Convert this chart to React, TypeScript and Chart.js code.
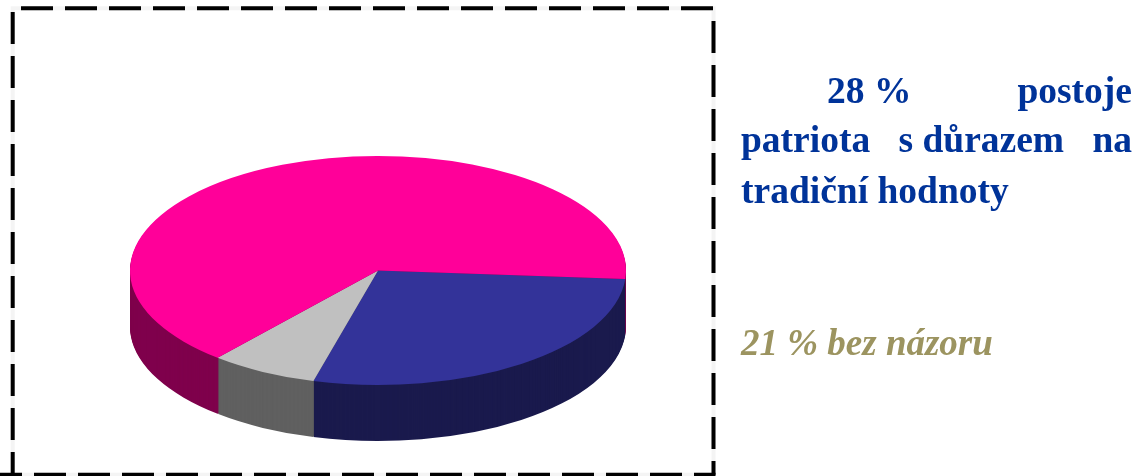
import React, { useEffect, useRef } from "react";
import { Chart, registerables } from "chart.js";

Chart.register(...registerables);

const categories = ["postoje patriota s důrazem na tradiční hodnoty", "ostatní", "bez názoru"];
const values = [28, 7, 65];
const topColors = ["#333399", "#C0C0C0", "#FF0099"];
const sideColors = ["#1A1A4D", "#606060", "#7F004C"];

const justifiedLines = [["28 %", "postoje"], ["patriota", "s důrazem", "na"]];
const plainLine = "tradiční hodnoty";
const noteLine = "21 % bez názoru";

const CENTER_Y = 270.5;
const RADIUS_X = 248;
const RADIUS_Y = 114.5;
const DEPTH = 56;

const tiltPlugin = {
  id: "tilt",
  beforeDatasetsDraw(chart: any) {
    const { ctx, chartArea } = chart;
    const midY = (chartArea.top + chartArea.bottom) / 2;
    const k = RADIUS_Y / RADIUS_X;
    const meta = chart.getDatasetMeta(0);
    const place = (d: number) => {
      ctx.setTransform(1, 0, 0, 1, 0, 0);
      ctx.translate(0, CENTER_Y + d);
      ctx.scale(1, k);
      ctx.translate(0, -midY);
    };
    ctx.save();
    for (let d = DEPTH; d >= 1; d--) {
      place(d);
      meta.data.forEach((el: any, i: number) => {
        const orig = el.options;
        const o = Object.create(orig);
        o.backgroundColor = sideColors[i];
        o.borderColor = sideColors[i];
        el.options = o;
        el.draw(ctx);
        el.options = orig;
      });
    }
    place(0);
  },
  afterDatasetsDraw(chart: any) {
    chart.ctx.restore();
  },
  afterDraw(chart: any) {
    const { ctx } = chart;
    const L = 12.7, R = 713.5, T = 8.3, B = 474.7;
    const side = (x0: number, y0: number, x1: number, y1: number, offset: number) => {
      ctx.lineDashOffset = offset;
      ctx.beginPath();
      ctx.moveTo(x0, y0);
      ctx.lineTo(x1, y1);
      ctx.stroke();
    };
    ctx.save();
    ctx.setTransform(1, 0, 0, 1, 0, 0);
    ctx.lineWidth = 4;
    ctx.strokeStyle = "#F4F4F4";
    ctx.setLineDash([]);
    ctx.strokeRect(L, T, R - L, B - T);
    ctx.strokeStyle = "#000000";
    ctx.setLineDash([32, 12]);
    side(21, T, R + 2, T, 0);
    side(R, 21, R, B, 0);
    side(L, 12, L, B + 2, 0);
    side(-10, B, R + 2, B, 0);
    ctx.restore();
  },
};

export default function App() {
  const ref = useRef<HTMLCanvasElement>(null);
  useEffect(() => {
    document.body.style.margin = "0";
    const chart = new Chart(ref.current as HTMLCanvasElement, {
      type: "pie",
      data: {
        labels: categories,
        datasets: [
          { data: values, backgroundColor: topColors, borderWidth: 0, clip: false } as any,
        ],
      },
      options: {
        animation: false,
        responsive: false,
        rotation: 94.3,
        radius: RADIUS_X,
        layout: { padding: { left: 0, right: 388, top: 0, bottom: 0 } },
        plugins: { legend: { display: false }, tooltip: { enabled: false } },
      } as any,
      plugins: [tiltPlugin],
    });
    return () => chart.destroy();
  }, []);

  const blue: React.CSSProperties = {
    position: "absolute",
    left: 741,
    width: 391,
    height: 49,
    font: "bold 37.5px/49px 'Liberation Serif'",
    color: "#003399",
    whiteSpace: "nowrap",
  };

  return (
    <div style={{ position: "absolute", left: 0, top: 0, width: 1144, height: 476, overflow: "hidden", background: "#fff" }}>
      <canvas ref={ref} width={1144} height={476} style={{ display: "block" }} />
      <div style={{ ...blue, top: 66, display: "flex", justifyContent: "space-between", paddingLeft: 86, width: 305 }}>
        {justifiedLines[0].map((w) => <span key={w}>{w}</span>)}
      </div>
      <div style={{ ...blue, top: 115, display: "flex", justifyContent: "space-between" }}>
        {justifiedLines[1].map((w) => <span key={w}>{w}</span>)}
      </div>
      <div style={{ ...blue, top: 166 }}>{plainLine}</div>
      <div style={{ ...blue, top: 318, font: "italic bold 37px/49px 'Liberation Serif'", color: "#9C9460" }}>{noteLine}</div>
    </div>
  );
}
